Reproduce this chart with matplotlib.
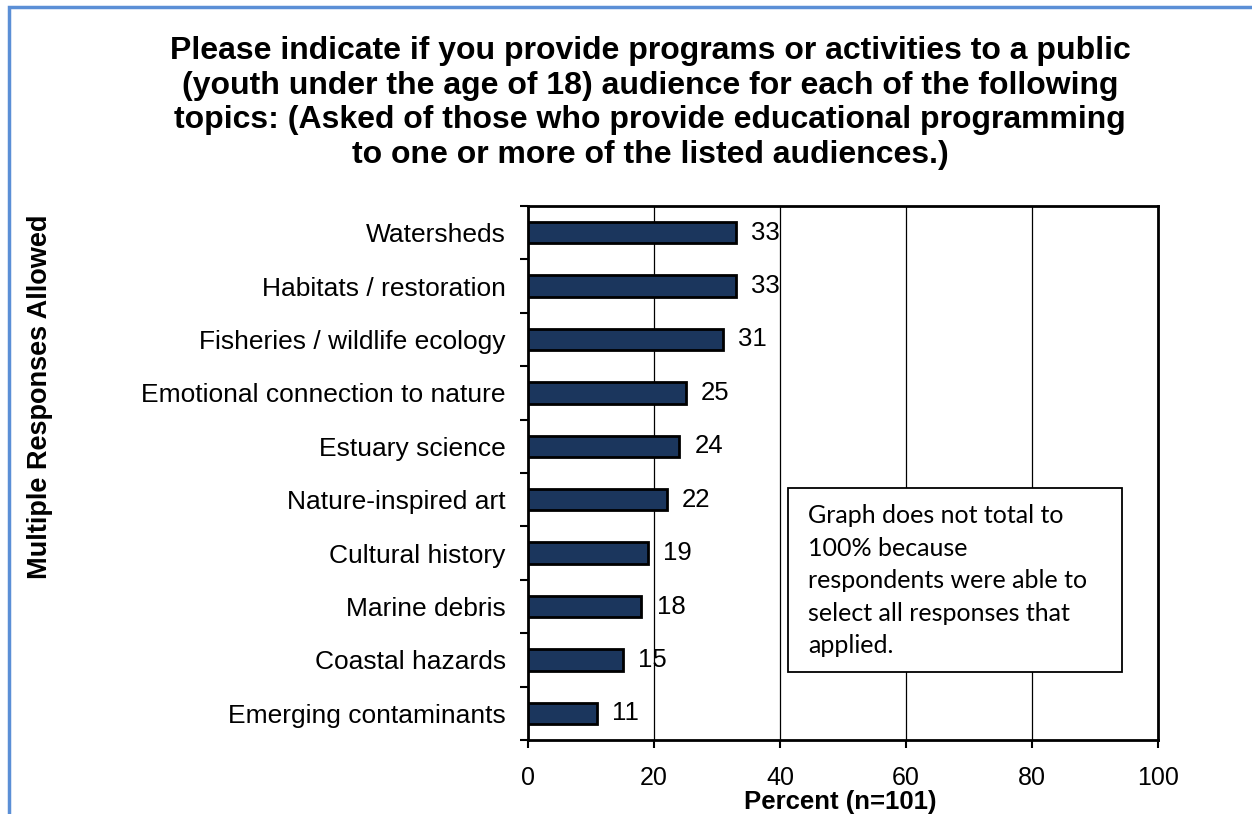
import matplotlib.pyplot as plt
from matplotlib.patches import Rectangle

topics = ['Watersheds', 'Habitats / restoration', 'Fisheries / wildlife ecology',
          'Emotional connection to nature', 'Estuary science', 'Nature-inspired art',
          'Cultural history', 'Marine debris', 'Coastal hazards', 'Emerging contaminants']
percents = [33, 33, 31, 25, 24, 22, 19, 18, 15, 11]

plt.rcParams['font.family'] = ['Liberation Sans', 'DejaVu Sans']

fig = plt.figure(figsize=(12.52, 8.14), dpi=100)
ax = fig.add_axes([528 / 1252, 1 - 740 / 814, 630 / 1252, 534 / 814])

ypos = list(range(len(topics)))[::-1]
ax.barh(ypos, percents, height=0.4, color='#1B365D', edgecolor='black', linewidth=2, zorder=3)
for y, v in zip(ypos, percents):
    ax.text(v + 2.4, y, str(v), va='center', ha='left', fontsize=18.5, zorder=4)

ax.set_xlim(0, 100)
ax.set_ylim(-0.5, len(topics) - 0.5)
ax.set_xticks([0, 20, 40, 60, 80, 100])
ax.tick_params(axis='x', labelsize=18, length=6, width=1.5, pad=13)
ax.set_yticks(ypos)
ax.set_yticklabels(topics, fontsize=19)
ax.tick_params(axis='y', length=0, pad=16)
ax.set_yticks([i - 0.5 for i in range(len(topics) + 1)], minor=True)
ax.tick_params(axis='y', which='minor', length=6, width=1.5)

ax.grid(axis='x', color='black', linewidth=0.9, zorder=0)
for s in ['left', 'right', 'top', 'bottom']:
    ax.spines[s].set_linewidth(2)

fig.text(840 / 1252, 1 - 802 / 814, 'Percent (n=101)', ha='center', va='center',
         fontsize=18.5, fontweight='bold')

fig.text(650 / 1252, 1 - 103 / 814,
         'Please indicate if you provide programs or activities to a public\n'
         '(youth under the age of 18) audience for each of the following\n'
         'topics: (Asked of those who provide educational programming\n'
         'to one or more of the listed audiences.)',
         ha='center', va='center', fontsize=23, fontweight='bold', linespacing=1.2)

fig.text(40 / 1252, 1 - 397 / 814, 'Multiple Responses Allowed', rotation=90,
         ha='center', va='center', fontsize=19.5, fontweight='bold')

ax.add_patch(Rectangle((0.4127, 0.127), 0.5303, 0.345, transform=ax.transAxes,
                       facecolor='white', edgecolor='black', linewidth=1.3, zorder=5))
ax.text(0.4444, 0.298,
        'Graph does not total to\n100% because\nrespondents were able to\nselect all responses that\napplied.',
        transform=ax.transAxes, ha='left', va='center', fontsize=18, family='Lato',
        linespacing=1.5, zorder=6)

fig.add_artist(Rectangle((9 / 1252, -0.1), 1.2, 1 - 7 / 814 + 0.1, transform=fig.transFigure,
                         fill=False, edgecolor='#5B8FD6', linewidth=2.5))

plt.savefig('out.png')
